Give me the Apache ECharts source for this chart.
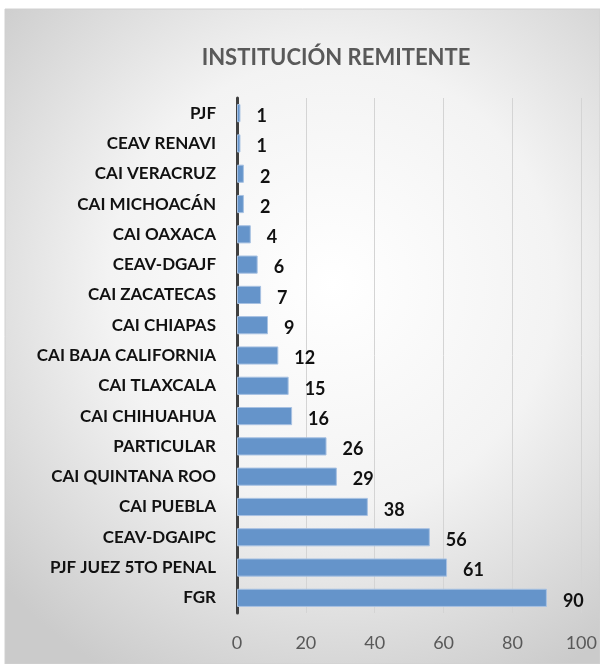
<!DOCTYPE html>
<html><head><meta charset="utf-8">
<script src="https://cdn.jsdelivr.net/npm/echarts@6/dist/echarts.min.js"></script>
<style>html,body{margin:0;padding:0;background:#fff}#c{width:600px;height:664px}</style>
</head><body><div id="c"></div>
<script>
const categories = ['PJF','CEAV RENAVI','CAI VERACRUZ','CAI MICHOACÁN','CAI OAXACA','CEAV-DGAJF','CAI ZACATECAS','CAI CHIAPAS','CAI BAJA CALIFORNIA','CAI TLAXCALA','CAI CHIHUAHUA','PARTICULAR','CAI QUINTANA ROO','CAI PUEBLA','CEAV-DGAIPC','PJF JUEZ 5TO PENAL','FGR'];
const values = [1,1,2,2,4,6,7,9,12,15,16,26,29,38,56,61,90];
const xTicks = [0,20,40,60,80,100];

const chart = echarts.init(document.getElementById('c'), null, {renderer:'canvas'});
chart.setOption({
  animation:false,
  graphic:[{type:'rect', z:-10, silent:true, shape:{x:5,y:9,width:595,height:655},
    style:{fill:new echarts.graphic.RadialGradient(0.55,0.42,0.75,[{offset:0,color:'#ffffff'},{offset:0.5,color:'#f3f3f3'},{offset:1,color:'#cbcbcb'}]), stroke:'#d0d0d0', lineWidth:1}}],
  title:{text:'INSTITUCIÓN REMITENTE', left:331, top:42, textAlign:'center',
    textStyle:{fontFamily:'Lato',fontWeight:'bold',fontSize:22,color:'#595959'}},
  grid:{left:237, right:15, top:98, bottom:51, containLabel:false},
  xAxis:{type:'value', min:0, max:100, interval:20,
    axisLine:{show:false}, axisTick:{show:false},
    splitLine:{lineStyle:{color:'#d4d4d4',width:1}},
    axisLabel:{color:'#595959',fontSize:18,fontFamily:'Lato',margin:21,
      formatter:v=>xTicks.includes(v)?String(v):''}},
  yAxis:{type:'category', data:categories, inverse:true,
    axisLine:{lineStyle:{color:'#404040',width:3}}, axisTick:{show:false},
    axisLabel:{color:'#111',fontWeight:'bold',fontSize:17,fontFamily:'Lato',margin:21}},
  series:[{type:'bar', data:values, barCategoryGap:'40%',
    itemStyle:{color:'#6594ca', borderColor:'#a7c1e2', borderWidth:1},
    label:{show:true, position:'right', distance:16, offset:[0,3], color:'#111',
      fontWeight:'bold', fontSize:18, fontFamily:'Lato'}}]
});
</script></body></html>
